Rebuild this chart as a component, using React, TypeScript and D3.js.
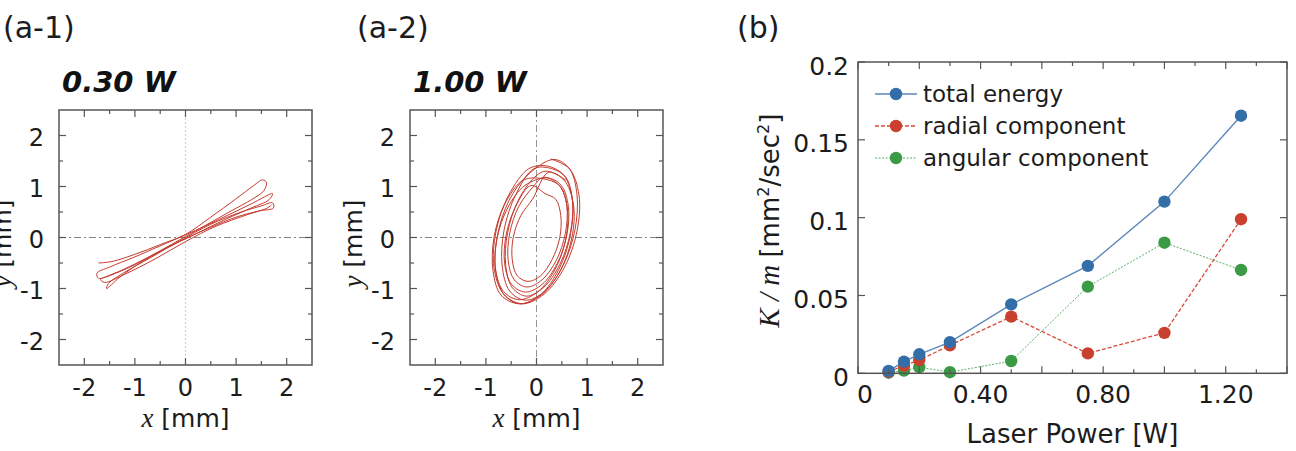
import React from 'react';
import * as d3 from 'd3';

type Pt = [number, number];

// Kinetic energy per unit mass vs laser power
const POWER_W = [0.1, 0.15, 0.2, 0.3, 0.5, 0.75, 1.0, 1.25];
const TOTAL_ENERGY = [0.0015, 0.0075, 0.0122, 0.02, 0.0443, 0.069, 0.1103, 0.1655];
const RADIAL = [0.001, 0.005, 0.0085, 0.018, 0.0364, 0.0128, 0.026, 0.099];
const ANGULAR = [0.0004, 0.0017, 0.0039, 0.0007, 0.0079, 0.0557, 0.0839, 0.0664];

const POWER_TICKS = [0, 0.4, 0.8, 1.2];
const POWER_TICK_LABELS = ['0', '0.40', '0.80', '1.20'];
const K_TICKS = [0, 0.05, 0.1, 0.15, 0.2];
const K_TICK_LABELS = ['0', '0.05', '0.1', '0.15', '0.2'];
const POS_TICKS = [-2, -1, 0, 1, 2];
const POS_MINOR = [-1.5, -0.5, 0.5, 1.5];

// traced particle orbits [x mm, y mm]
const ORBIT_030: Pt[] = [
  [-1.72, -0.5], [-1.45, -0.47], [-1.0, -0.33], [-0.5, -0.14], [0.0, 0.06], [0.5, 0.4], [1.0, 0.76],
  [1.35, 1.02], [1.52, 1.13], [1.6, 1.08], [1.55, 0.92], [1.3, 0.74], [0.9, 0.52], [0.4, 0.24],
  [0.0, 0.02], [-0.5, -0.26], [-1.0, -0.52], [-1.45, -0.72], [-1.72, -0.8], [-1.75, -0.7],
  [-1.5, -0.58], [-1.0, -0.38], [-0.4, -0.12], [0.2, 0.14], [0.8, 0.42], [1.3, 0.66], [1.72, 0.86],
  [1.65, 0.74], [1.3, 0.58], [0.8, 0.36], [0.2, 0.07], [-0.4, -0.22], [-0.9, -0.5], [-1.3, -0.78],
  [-1.56, -1.0], [-1.52, -0.9], [-1.2, -0.68], [-0.7, -0.4], [-0.1, -0.06], [0.5, 0.26], [1.1, 0.5],
  [1.5, 0.62], [1.72, 0.68], [1.74, 0.58], [1.45, 0.52], [1.0, 0.4], [0.5, 0.2], [0.0, -0.02],
  [-0.6, -0.32], [-1.1, -0.58], [-1.5, -0.75], [-1.68, -0.82], [-1.6, -0.88], [-1.2, -0.72],
  [-0.6, -0.42], [0.0, -0.08], [0.6, 0.22], [1.2, 0.44], [1.62, 0.58], [1.7, 0.64],
];

const ORBIT_100: Pt[] = [
  [0.28, 1.54], [0.65, 1.35], [0.84, 0.83], [0.8, 0.12], [0.55, -0.59], [0.15, -1.11],
  [-0.28, -1.3], [-0.65, -1.11], [-0.84, -0.59], [-0.8, 0.12], [-0.55, 0.83], [-0.15, 1.35],
  [0.22, 1.4], [0.54, 1.22], [0.71, 0.73], [0.67, 0.05], [0.44, -0.63], [0.08, -1.12],
  [-0.32, -1.3], [-0.64, -1.12], [-0.81, -0.63], [-0.77, 0.05], [-0.54, 0.73], [-0.18, 1.22],
  [0.34, 1.53], [0.65, 1.35], [0.8, 0.84], [0.76, 0.15], [0.53, -0.54], [0.17, -1.05],
  [-0.22, -1.23], [-0.53, -1.05], [-0.68, -0.54], [-0.64, 0.15], [-0.41, 0.84], [-0.05, 1.35],
  [0.3, 1.35], [0.58, 1.18], [0.71, 0.73], [0.67, 0.1], [0.46, -0.53], [0.14, -0.98],
  [-0.2, -1.15], [-0.48, -0.98], [-0.61, -0.53], [-0.57, 0.1], [-0.36, 0.73], [-0.04, 1.18],
  [0.18, 1.3], [0.54, 1.13], [0.73, 0.65], [0.7, 0.0], [0.47, -0.65], [0.09, -1.13],
  [-0.34, -1.3], [-0.7, -1.13], [-0.86, -0.65], [-0.84, 0.0], [-0.63, 0.65], [-0.25, 1.13],
  [0.23, 1.13], [0.48, 0.99], [0.6, 0.61], [0.57, 0.08], [0.39, -0.45], [0.11, -0.83],
  [-0.19, -0.97], [-0.44, -0.83], [-0.56, -0.45], [-0.53, 0.08], [-0.35, 0.61], [-0.07, 0.99],
  [0.14, 1.18], [0.45, 1.02], [0.61, 0.58], [0.58, -0.02], [0.37, -0.62], [0.03, -1.06],
  [-0.34, -1.22], [-0.65, -1.06], [-0.81, -0.62], [-0.78, -0.02], [-0.57, 0.58], [-0.23, 1.02],
  [0.22, 1.17], [0.49, 1.02], [0.63, 0.61], [0.6, 0.05], [0.41, -0.51], [0.11, -0.92],
  [-0.22, -1.07], [-0.49, -0.92], [-0.63, -0.51], [-0.6, 0.05], [-0.41, 0.61], [-0.11, 1.02],
  [0.17, 0.86], [0.38, 0.75], [0.48, 0.43], [0.46, 0.0], [0.31, -0.43], [0.08, -0.75],
  [-0.17, -0.86], [-0.38, -0.75], [-0.48, -0.43], [-0.46, 0.0], [-0.31, 0.43], [-0.08, 0.75],
  [0.24, 1.28], [0.58, 1.12],
];

const SANS = '"DejaVu Sans", Arial, sans-serif';
const SERIF = '"Liberation Serif", "Times New Roman", serif';
const AXIS = '#555';
const INK = '#1c1c1c';
const ORBIT_RED = '#c43b2e';

const SERIES = [
  { name: 'total energy', values: TOTAL_ENERGY, line: '#5b87bb', dot: '#336ea8', dash: undefined as string | undefined, width: 1.4 },
  { name: 'radial component', values: RADIAL, line: '#d9493a', dot: '#c9402f', dash: '4,2', width: 1.3 },
  { name: 'angular component', values: ANGULAR, line: '#4aa64f', dot: '#3b9a44', dash: '2,1.5', width: 0.9 },
];

interface OrbitProps {
  left: number;
  tag: string;
  tagX: number;
  title: string;
  orbit: Pt[];
  faintVertical?: boolean;
}

const OrbitPanel: React.FC<OrbitProps> = ({ left, tag, tagX, title, orbit, faintVertical }) => {
  const top = 110, bottom = 365, size = 253;
  const x = d3.scaleLinear().domain([-2.5, 2.5]).range([left, left + size]);
  const y = d3.scaleLinear().domain([-2.5, 2.5]).range([bottom, top]);
  const line = d3.line<Pt>().x(d => x(d[0])).y(d => y(d[1])).curve(d3.curveCatmullRom.alpha(0.5));
  const right = left + size;

  return (
    <g>
      <text x={tagX} y={38} fontFamily={SANS} fontSize={30} fill={INK}>{tag}</text>
      <text x={left + 3} y={92} fontFamily={SANS} fontSize={29} fontWeight="bold" fontStyle="italic" fill="#111">{title}</text>

      {/* zero reference lines */}
      <line x1={left} x2={right} y1={y(0)} y2={y(0)} stroke="#777" strokeWidth={0.9} strokeDasharray="7,3,2,3" />
      <line x1={x(0)} x2={x(0)} y1={top} y2={bottom}
        stroke={faintVertical ? '#c8c8c8' : '#888'} strokeWidth={0.9}
        strokeDasharray={faintVertical ? '2,2' : '7,3,2,3'} />

      <path d={line(orbit) || undefined} fill="none" stroke={ORBIT_RED} strokeWidth={1} />

      <rect x={left} y={top} width={size} height={bottom - top} fill="none" stroke={AXIS} strokeWidth={1.5} />

      {/* inward ticks on all four sides */}
      {POS_TICKS.map(v => (
        <g key={'M' + v} stroke={AXIS} strokeWidth={1.2}>
          <line x1={x(v)} x2={x(v)} y1={bottom} y2={bottom - 7} />
          <line x1={x(v)} x2={x(v)} y1={top} y2={top + 7} />
          <line x1={left} x2={left + 7} y1={y(v)} y2={y(v)} />
          <line x1={right} x2={right - 7} y1={y(v)} y2={y(v)} />
        </g>
      ))}
      {POS_MINOR.map(v => (
        <g key={'m' + v} stroke={AXIS} strokeWidth={1.2}>
          <line x1={x(v)} x2={x(v)} y1={bottom} y2={bottom - 4} />
          <line x1={x(v)} x2={x(v)} y1={top} y2={top + 4} />
          <line x1={left} x2={left + 4} y1={y(v)} y2={y(v)} />
          <line x1={right} x2={right - 4} y1={y(v)} y2={y(v)} />
        </g>
      ))}

      {POS_TICKS.map(v => (
        <text key={'yl' + v} x={left - 15} y={y(v)} dy="0.42em" textAnchor="end"
          fontFamily={SANS} fontSize={24} fill={INK}>{String(v)}</text>
      ))}
      {POS_TICKS.map(v => (
        <text key={'xl' + v} x={x(v)} y={396} textAnchor="middle"
          fontFamily={SANS} fontSize={24} fill={INK}>{String(v)}</text>
      ))}

      <text x={left + size / 2} y={427} textAnchor="middle" fontFamily={SANS} fontSize={25} fill={INK}>
        <tspan fontFamily={SERIF} fontStyle="italic" fontSize={27}>x</tspan>
        <tspan> [mm]</tspan>
      </text>
      <text transform={`translate(${left - 48},${(top + bottom) / 2 + 6}) rotate(-90)`} textAnchor="middle"
        fontFamily={SANS} fontSize={25} fill={INK}>
        <tspan fontFamily={SERIF} fontStyle="italic" fontSize={27}>y</tspan>
        <tspan> [mm]</tspan>
      </text>
    </g>
  );
};

const EnergyPanel: React.FC = () => {
  const left = 858, right = 1287, top = 62, bottom = 373.3;
  const x = d3.scaleLinear().domain([0, 1.4]).range([left, right]);
  const y = d3.scaleLinear().domain([0, 0.2]).range([bottom, top]);
  const line = d3.line<number>().x((_, i) => x(POWER_W[i])).y(d => y(d));
  const xMajor = d3.range(0, 1.41, 0.2);
  const xMinor = d3.range(0.1, 1.4, 0.2);

  return (
    <g>
      <text x={737} y={38} fontFamily={SANS} fontSize={30} fill={INK}>(b)</text>

      {/* green, red, then blue on top */}
      {[...SERIES].reverse().map(s => (
        <g key={s.name}>
          <path d={line(s.values) || undefined} fill="none" stroke={s.line} strokeWidth={s.width}
            strokeDasharray={s.dash} />
          {s.values.map((v, i) => (
            <circle key={i} cx={x(POWER_W[i])} cy={y(v)} r={6.2} fill={s.dot} />
          ))}
        </g>
      ))}

      <rect x={left} y={top} width={right - left} height={bottom - top} fill="none" stroke={AXIS} strokeWidth={1.5} />

      {xMajor.map(v => (
        <g key={'xM' + v} stroke={AXIS} strokeWidth={1.2}>
          <line x1={x(v)} x2={x(v)} y1={bottom} y2={bottom - 7} />
          <line x1={x(v)} x2={x(v)} y1={top} y2={top + 7} />
        </g>
      ))}
      {xMinor.map(v => (
        <g key={'xm' + v} stroke={AXIS} strokeWidth={1.2}>
          <line x1={x(v)} x2={x(v)} y1={bottom} y2={bottom - 4} />
          <line x1={x(v)} x2={x(v)} y1={top} y2={top + 4} />
        </g>
      ))}
      {K_TICKS.map(v => (
        <g key={'yM' + v} stroke={AXIS} strokeWidth={1.2}>
          <line x1={left} x2={left + 7} y1={y(v)} y2={y(v)} />
          <line x1={right} x2={right - 7} y1={y(v)} y2={y(v)} />
        </g>
      ))}

      {K_TICKS.map((v, i) => (
        <text key={'yl' + v} x={left - 9} y={y(v)} dy="0.5em" textAnchor="end"
          fontFamily={SANS} fontSize={25} fill={INK}>{K_TICK_LABELS[i]}</text>
      ))}
      {POWER_TICKS.map((v, i) => (
        <text key={'xl' + v} x={x(v) + (v === 0 ? 7 : 0)} y={403} textAnchor="middle"
          fontFamily={SANS} fontSize={25} fill={INK}>{POWER_TICK_LABELS[i]}</text>
      ))}

      <text x={(left + right) / 2} y={443} textAnchor="middle" fontFamily={SANS} fontSize={26} fill={INK}>
        Laser Power [W]
      </text>
      <text transform={`translate(779,${(top + bottom) / 2 + 3}) rotate(-90)`} textAnchor="middle"
        fontFamily={SANS} fontSize={26} fill={INK}>
        <tspan fontFamily={SERIF} fontStyle="italic" fontSize={29}>K / m </tspan>
        <tspan>[mm</tspan>
        <tspan fontSize={16} dy={-10}>2</tspan>
        <tspan dy={10}>/sec</tspan>
        <tspan fontSize={16} dy={-10}>2</tspan>
        <tspan dy={10}>]</tspan>
      </text>

      {/* legend */}
      {SERIES.map((s, i) => {
        const ly = 94 + i * 32;
        return (
          <g key={'lg' + s.name}>
            <line x1={875} x2={917} y1={ly} y2={ly} stroke={s.line} strokeWidth={s.width} strokeDasharray={s.dash} />
            <circle cx={896} cy={ly} r={6.2} fill={s.dot} />
            <text x={923} y={ly} dy="0.36em" fontFamily={SANS} fontSize={23} fill={INK}>{s.name}</text>
          </g>
        );
      })}
    </g>
  );
};

const App: React.FC = () => (
  <svg width={1296} height={451} viewBox="0 0 1296 451"
    style={{ position: 'absolute', left: 0, top: 0, background: '#fff' }}>
    <rect width={1296} height={451} fill="#fff" />
    <OrbitPanel left={59} tag="(a-1)" tagX={3} title="0.30 W" orbit={ORBIT_030} faintVertical />
    <OrbitPanel left={410} tag="(a-2)" tagX={357} title="1.00 W" orbit={ORBIT_100} />
    <EnergyPanel />
  </svg>
);

export default App;
